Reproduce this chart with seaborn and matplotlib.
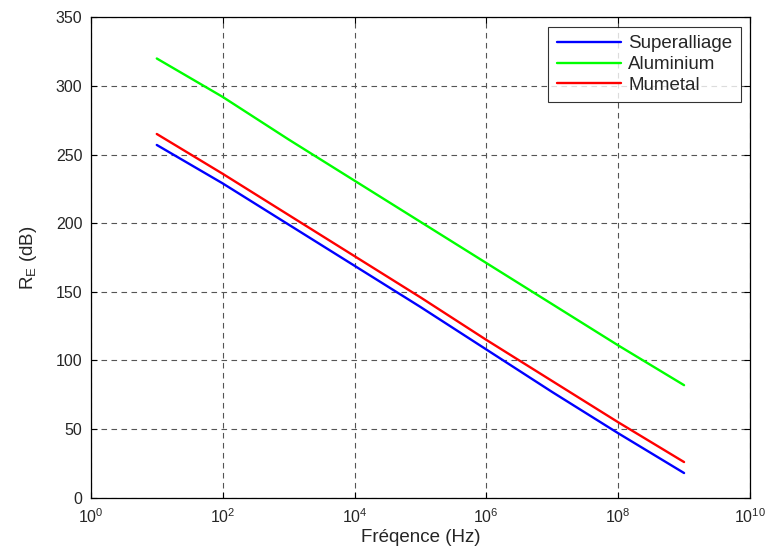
import pandas as pd
import seaborn as sns
import matplotlib.pyplot as plt
from matplotlib.ticker import LogLocator, NullLocator

# values, one per decade
freq = [1e1, 1e2, 1e3, 1e4, 1e5, 1e6, 1e7, 1e8, 1e9]
superalliage = [257, 229, 199, 169, 139, 108, 77, 47, 18]
aluminium = [320, 292, 261, 231, 201, 171, 141, 111, 82]
mumetal = [265, 236, 206, 176, 146, 115, 85, 55, 26]

materials = ["Superalliage", "Aluminium", "Mumetal"]
colors = {"Superalliage": "#0000ff", "Aluminium": "#00ff00", "Mumetal": "#ff0000"}

if __name__ == "__main__":
    data = pd.concat([
        pd.DataFrame({"f": freq, "RE": superalliage, "mat": "Superalliage"}),
        pd.DataFrame({"f": freq, "RE": aluminium, "mat": "Aluminium"}),
        pd.DataFrame({"f": freq, "RE": mumetal, "mat": "Mumetal"}),
    ])

    sns.set_style("white")
    plt.rcParams["font.family"] = ["Liberation Sans", "DejaVu Sans"]

    fig = plt.figure(figsize=(7.7, 5.58), dpi=100)
    ax = fig.add_axes([0.118, 0.108, 0.856, 0.861])

    sns.lineplot(data=data, x="f", y="RE", hue="mat", hue_order=materials,
                 palette=colors, linewidth=1.7, ax=ax)

    ax.set_xscale("log")
    ax.set_xlim(1, 1e10)
    ax.set_ylim(0, 350)
    ax.xaxis.set_major_locator(LogLocator(base=100))
    ax.xaxis.set_minor_locator(NullLocator())
    ax.set_yticks(range(0, 351, 50))

    ax.grid(True, which="major", linestyle=(0, (5, 4)), color="#555555", linewidth=0.8)
    for s in ax.spines.values():
        s.set_color("black")
        s.set_linewidth(0.9)
    ax.tick_params(direction="in", length=4, color="black", labelsize=11.5,
                   top=True, right=True, bottom=True, left=True)
    ax.tick_params(axis="x", pad=7)
    ax.tick_params(axis="y", pad=6)

    ax.set_xlabel("Fréqence (Hz)", fontsize=13.5, labelpad=2)
    ax.set_ylabel("R$_\\mathregular{E}$ (dB)", fontsize=13.5, labelpad=12)

    leg = ax.legend(loc="upper right", fontsize=13.5, frameon=True, fancybox=False,
                    borderaxespad=0.5, handlelength=3.4, handletextpad=0.4,
                    labelspacing=0.2, borderpad=0.45)
    leg.get_frame().set_edgecolor("black")
    leg.get_frame().set_linewidth(0.8)
    leg.set_title(None)

    fig.savefig("out.png", dpi=100)
